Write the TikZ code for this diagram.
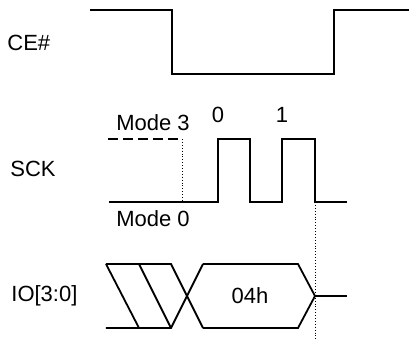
\documentclass[tikz,border=0pt]{standalone}
\usepackage{fontspec}
\setmainfont{Liberation Sans}
\usetikzlibrary{positioning}

\begin{document}
\begin{tikzpicture}[x=0.5pt, y=-0.5pt, font=\fontsize{11}{13}\selectfont,
    wave/.style={line width=0.9pt},
    guide/.style={densely dotted, line width=0.45pt},
    lbl/.style={inner sep=0}]
    \useasboundingbox (0,0) rectangle (409,339);

    % signal names
    \node [lbl, anchor=west] (ce) at (7,43) {CE\#};
    \node [lbl, anchor=west] (sck) at (10,169) {SCK};
    \node [lbl, anchor=west] (io) at (11,296) {IO[3:0]};

    % CE#
    \draw [wave] (90,10) -- (172,10) -- (172,74) -- (334,74) -- (334,10) -- (409,10);

    % SCK
    \node [lbl] (mode3) at (153,123) {Mode 3};
    \node [lbl] (mode0) at (153,219) {Mode 0};
    \node [lbl] (clk0) at (218,115) {0};
    \node [lbl] (clk1) at (282,115) {1};
    \draw [wave, dash pattern=on 5pt off 2.5pt] (108,139) -- (182,139);
    \draw [guide] (182,139) -- (182,202);
    \draw [wave] (109,202) -- (218,202) -- (218,139) -- (250,139) -- (250,202)
        -- (282,202) -- (282,139) -- (315,139) -- (315,202) -- (347,202);
    \draw [guide] (315,202) -- (315,339);

    % IO[3:0]
    \draw [wave] (106,264) -- (171,264) -- (203,328);
    \draw [wave] (106,328) -- (171,328) -- (203,264);
    \draw [wave] (106,264) -- (139,328);
    \draw [wave] (139,264) -- (171,328);
    \draw [wave] (203,264) -- (298,264) -- (315,296) -- (298,328) -- (203,328);
    \draw [wave] (315,296) -- (347,296);
    \node [lbl] (cmd) at (250,296) {04h};
\end{tikzpicture}
\end{document}
